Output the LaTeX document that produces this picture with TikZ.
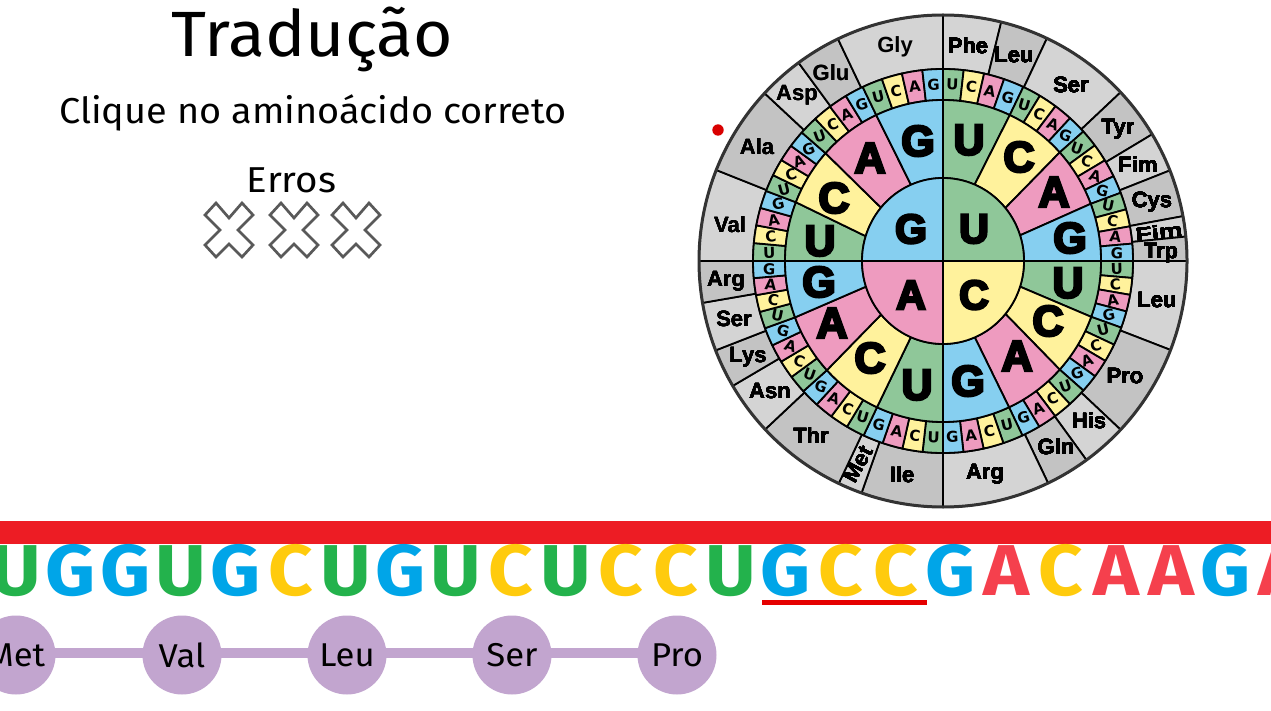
\documentclass[tikz,border=0pt]{standalone}
\usepackage{fontspec}
\setmainfont{Fira Sans}
\newfontfamily\wheelfont{Liberation Sans Bold}
\newfontfamily\wheelblack{Liberation Sans Bold}[FakeBold=6]
\newfontfamily\wheelsmall{DejaVu Sans Bold}
\newfontfamily\strandfont{Fira Sans Bold}
\newcommand{\pxfont}[1]{\fontsize{#1}{#1}\selectfont}
\newcommand{\widen}[2]{\scalebox{#1}[1]{#2}}
% one ring piece: style, from and to at inner edge, from and to at outer edge, inner rx, ry, outer rx, ry
% angles run clockwise from north
\newcommand{\ringwedge}[9]{%
  \draw[#1, shift={(943,261)}] ({#2-90}:#6 and #7) -- ({#4-90}:#8 and #9)
    arc[start angle={#4-90}, end angle={#5-90}, x radius=#8, y radius=#9]
    -- ({#3-90}:#6 and #7)
    arc[start angle={#3-90}, end angle={#2-90}, x radius=#6, y radius=#7] -- cycle;}
\newcommand{\aminolist}{
  0/13.8/toneL/Phe/968/46/0, 13.8/25.2/toneD/Leu/1014/55/0, 25.2/46.7/toneL/Ser/1071/85/0,
  46.7/59/toneD/Tyr/1118/129/0, 59/68.4/toneL/Fim/1138/165/0, 68.4/79.5/toneD/Cys/1152/202/0,
  79.5/84.3/toneL/\scalebox{1.2}[.85]{Fim}/1159/232/6, 84.3/90/toneD/Trp/1161/253/0, 90/111.2/toneL/Leu/1157/300/0,
  111.2/133.3/toneD/Pro/1125/376/0, 133.3/144/toneL/His/1089/421/0, 144/154.5/toneD/Gln/1056/447/0,
  154.5/180/toneL/Arg/985/474/0, 180/199.5/toneD/Ile/902/475/0, 199.5/205.3/toneL/\rotatebox{62}{Met}/858/464/0,
  205.3/226.8/toneD/Thr/811/436/0, 226.8/239.5/toneL/Asn/770/391/0, 239.5/248.7/toneD/Lys/748/357/0,
  248.7/260.2/toneL/Ser/734/319/0, 260.2/270/toneD/Arg/726/281/0, 270/291.7/toneL/Val/730/225/0,
  291.7/313/toneD/Ala/757/147/0, 313/323.7/toneL/Asp/797/95/0, 323.7/334.5/toneD/Glu/831/73/0,
  334.5/360/toneL/Gly/895/47/0}
\definecolor{baseU}{HTML}{8FC799}
\definecolor{baseC}{HTML}{FFF29C}
\definecolor{baseA}{HTML}{EE9BBF}
\definecolor{baseG}{HTML}{86CFF0}
\definecolor{toneL}{HTML}{D4D4D4}
\definecolor{toneD}{HTML}{C3C3C3}
\definecolor{strandU}{HTML}{23B24C}
\definecolor{strandG}{HTML}{00A5E8}
\definecolor{strandC}{HTML}{FFCB0D}
\definecolor{strandA}{HTML}{F5404D}
\definecolor{redbar}{HTML}{ED1C24}
\definecolor{peptide}{HTML}{C2A5CF}
\begin{document}
\begin{tikzpicture}[
    x=1pt, y=-1pt,
    wedgeline/.style={draw=black, line width=1.8pt, line join=round},
    headline/.style={font=\pxfont{64}, inner sep=0pt},
    subline/.style={font=\pxfont{36}, inner sep=0pt},
    errmark/.style={draw=black!65, line width=2.7pt, line join=miter, fill=white},
    amino/.style={font=\wheelfont\pxfont{22}, inner sep=0pt},
    bigbase/.style={font=\wheelblack\pxfont{43}, inner sep=0pt},
    smallbase/.style={font=\wheelsmall\pxfont{15}, inner sep=0pt},
    strand/.style={font=\strandfont\pxfont{72}, inner sep=0pt, anchor=base},
    residue/.style={circle, fill=peptide, minimum size=79pt, inner sep=0pt, font=\pxfont{33}},
  ]
    \clip (0,0) rectangle (1271,711);
    \fill[white] (0,0) rectangle (1271,711);

    % ---------- texts ----------
    \node[headline] (title) at (312.5,39) {\widen{1.057}{Tradução}};
    \node[subline] (hint) at (313,113) {\widen{1.052}{Clique no aminoácido correto}};
    \node[subline] (errs) at (291.5,180) {\widen{1.07}{Erros}};
    \foreach \cx in {229,294,356}
      \draw[errmark, shift={(\cx,230)}] (-13,-27) -- (-24,-15) -- (-9,0) -- (-24,15) -- (-13,27)
        -- (0,14) -- (13,27) -- (24,15) -- (9,0) -- (24,-15) -- (13,-27) -- (0,-12) -- cycle;
    \fill[red!85!black] (718,130) circle (5.7);

    % ---------- outer ring ----------
    \foreach \from/\to/\tone/\word/\lx/\ly/\tilt in \aminolist
      \ringwedge{wedgeline, fill=\tone}{\from}{\to}{\from}{\to}{190}{192}{244}{246}
    \foreach \from/\to/\tone/\word/\lx/\ly/\tilt [count=\n] in \aminolist
      \node[amino, rotate=\tilt] (aa\n) at (\lx,\ly) {\word};

    % ---------- third base ring ----------
    \foreach \j/\p/\q in {0/0/25, 1/25/47.6, 2/47.6/69.2, 3/69.2/90,
        4/90/110.3, 5/110.3/132.4, 6/132.4/155.3, 7/155.3/180,
        8/180/204.7, 9/204.7/227.3, 10/227.3/249.5, 11/249.5/270,
        12/270/291.4, 13/291.4/312, 14/312/335, 15/335/360}
      \foreach \i/\wbase in {0/U,1/C,2/A,3/G} {
        \pgfmathsetmacro\wfrom{\p+(\q-\p)*\i/4}
        \pgfmathsetmacro\wto{\p+(\q-\p)*(\i+1)/4}
        \pgfmathsetmacro\wmid{(\wfrom+\wto)/2}
        \pgfmathsetmacro\wtilt{-20*sin(2*\wmid)}
        \pgfmathsetmacro\wx{943+174*sin(\wmid)}
        \pgfmathsetmacro\wy{261-176.5*cos(\wmid)}
        \ringwedge{wedgeline, fill=base\wbase}{\wfrom}{\wto}{\wfrom}{\wto}{158}{161}{190}{192}
        \node[smallbase, rotate=\wtilt] (third\j-\i) at (\wx,\wy) {\wbase};
      }

    % ---------- second base ring ----------
    \foreach \k/\wbase/\ai/\bi/\ao/\bo/\lx/\ly in {
        0/U/0/23/0/25/969/140, 1/C/23/50.3/25/47.6/1019/157, 2/A/50.3/72/47.6/69.2/1054/192,
        3/G/72/90/69.2/90/1070/238, 4/U/90/108/90/110.3/1068/283, 5/C/108/129.6/110.3/132.4/1048/321,
        6/A/129.6/156.9/132.4/155.3/1017/356, 7/G/156.9/180/155.3/180/968/381,
        8/U/180/203.4/180/204.7/917/385, 9/C/203.4/229.8/204.7/227.3/870/358,
        10/A/229.8/252/227.3/249.5/832/323, 11/G/252/270/249.5/270/819/282,
        12/U/270/287.4/270/291.4/820/241, 13/C/287.4/310/291.4/312/834/198,
        14/A/310/336.7/312/335/870/158, 15/G/336.7/360/335/360/918/141} {
      \ringwedge{wedgeline, fill=base\wbase}{\ai}{\bi}{\ao}{\bo}{81}{83}{158}{161}
      \node[bigbase] (second\k) at (\lx,\ly) {\wbase};
    }

    % ---------- first base disc ----------
    \foreach \k/\wbase/\lx/\ly in {0/U/974/229, 1/C/974/295, 2/A/911/295, 3/G/911/229} {
      \pgfmathsetmacro\wfrom{90*\k}
      \pgfmathsetmacro\wto{90*(\k+1)}
      \ringwedge{wedgeline, fill=base\wbase}{\wfrom}{\wto}{\wfrom}{\wto}{.01}{.01}{81}{83}
      \node[bigbase, font=\wheelblack\pxfont{41}] (first\k) at (\lx,\ly) {\wbase};
    }
    \draw[draw=black!80, line width=3pt] (943,261) ellipse [x radius=244, y radius=246];

    % ---------- strand ----------
    \fill[redbar] (0,521) rectangle (1271,544);
    \foreach \wbase/\cx [count=\n] in {U/16, G/71, G/126, U/181, G/236, C/291, U/346, G/401, U/456,
        C/511, U/566, C/621, C/676, U/731, G/786, C/841, C/896, G/951, A/1006, C/1061, A/1116,
        A/1171, G/1226, A/1281}
      \node[strand, text=strand\wbase] (nt\n) at (\cx,595) {\widen{1.08}{\wbase}};
    \fill[red!90!black] (762,600) rectangle (927,605);

    % ---------- chain ----------
    \node[residue] (met) at (16,655) {\widen{1.05}{Met}};
    \node[residue] (val) at (182,655) {\widen{1.05}{Val}};
    \node[residue] (leu) at (347,655) {\widen{1.05}{Leu}};
    \node[residue] (ser) at (512,655) {\widen{1.05}{Ser}};
    \node[residue] (pro) at (677,655) {\widen{1.05}{Pro}};
    \foreach \a/\b in {met/val, val/leu, leu/ser, ser/pro}
      \draw[peptide, line width=10pt] ([xshift=-4pt,yshift=2pt]\a.east) -- ([xshift=4pt,yshift=2pt]\b.west);
  \end{tikzpicture}
\end{document}
